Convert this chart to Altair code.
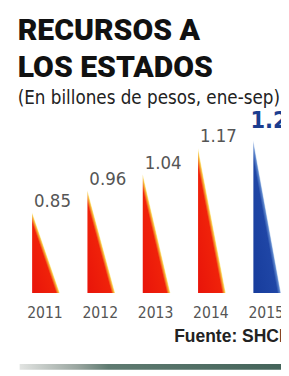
import altair as alt
import pandas as pd

# ---- data ----
years = ["2011", "2012", "2013", "2014", "2015"]
values = [0.85, 0.96, 1.04, 1.17, 1.21]
highlight = [False, False, False, False, True]

title_lines = ["RECURSOS A", "LOS ESTADOS"]
subtitle_text = "(En billones de pesos, ene-sep)"
source_text = "Fuente: SHCP"

# ---- layout / style constants ----
HEAD = "Roboto"
NARROW = "DejaVu Sans Condensed"
BAR_W = 0.5
Y_MIN, Y_MAX = 0.4476, 1.3494
X_MIN, X_MAX = -0.26, 4.50

bars = pd.DataFrame({"year": years, "value": values,
                     "idx": list(range(len(years))), "hl": highlight})
bars["label"] = bars["value"].map(lambda v: f"{v:.2f}")
bars["mid"] = bars["idx"] + BAR_W / 2

rows = []
for r in bars.itertuples():
    rows.append({"year": r.year, "x": r.idx, "y": r.value, "hl": r.hl})
    rows.append({"year": r.year, "x": r.idx + BAR_W, "y": Y_MIN, "hl": r.hl})
tri = pd.DataFrame(rows)

xs = alt.Scale(domain=[X_MIN, X_MAX], nice=False, zero=False)
ys = alt.Scale(domain=[Y_MIN, Y_MAX], nice=False, zero=False)

red_grad = alt.Gradient(
    gradient="linear",
    stops=[alt.GradientStop(color="#e8140a", offset=0),
           alt.GradientStop(color="#f0220a", offset=0.87),
           alt.GradientStop(color="#f7b83a", offset=0.96),
           alt.GradientStop(color="#fcee9a", offset=1)],
    x1=0, y1=1, x2=0.5, y2=0.5)
blue_grad = alt.Gradient(
    gradient="linear",
    stops=[alt.GradientStop(color="#173c9c", offset=0),
           alt.GradientStop(color="#1f46a6", offset=0.87),
           alt.GradientStop(color="#5d86cc", offset=0.96),
           alt.GradientStop(color="#cfe0f4", offset=1)],
    x1=0, y1=1, x2=0.5, y2=0.5)
sep_grad = alt.Gradient(
    gradient="linear",
    stops=[alt.GradientStop(color="#e2e4e2", offset=0),
           alt.GradientStop(color="#9aa6a0", offset=0.22),
           alt.GradientStop(color="#5f7b71", offset=0.34),
           alt.GradientStop(color="#44645a", offset=1)],
    x1=0, y1=0, x2=1, y2=0)

base_tri = alt.Chart(tri)
area_red = base_tri.transform_filter("!datum.hl").mark_area(color=red_grad).encode(
    x=alt.X("x:Q", scale=xs,
            axis=alt.Axis(domain=True, ticks=False, labels=False, grid=False,
                          title=None, domainColor="#a9a79f", domainWidth=1.5)),
    y=alt.Y("y:Q", scale=ys, axis=None),
    y2=alt.datum(Y_MIN),
    detail="year:N",
)
area_blue = base_tri.transform_filter("datum.hl").mark_area(color=blue_grad).encode(
    x=alt.X("x:Q", scale=xs, axis=None),
    y=alt.Y("y:Q", scale=ys, axis=None),
    y2=alt.datum(Y_MIN),
    detail="year:N",
)

base_bar = alt.Chart(bars)
labels_red = base_bar.transform_filter("!datum.hl").mark_text(
    align="left", baseline="bottom", dx=2, dy=-2,
    font=NARROW, fontSize=19, color="#555555").encode(
    x=alt.X("idx:Q", scale=xs, axis=None),
    y=alt.Y("value:Q", scale=ys, axis=None),
    text="label:N",
)
label_blue = base_bar.transform_filter("datum.hl").mark_text(
    align="left", baseline="bottom", dx=-3, dy=-8,
    font=NARROW, fontSize=24, fontWeight="bold", color="#1b3d8f").encode(
    x=alt.X("idx:Q", scale=xs, axis=None),
    y=alt.Y("value:Q", scale=ys, axis=None),
    text="label:N",
)
year_text = base_bar.mark_text(
    align="center", baseline="top", dx=-1, dy=13,
    font=NARROW, fontSize=16, color="#555555").encode(
    x=alt.X("mid:Q", scale=xs, axis=None),
    y=alt.datum(Y_MIN),
    text="year:N",
)
source = alt.Chart(pd.DataFrame({"t": [source_text]})).mark_text(
    align="left", baseline="alphabetic",
    font="Liberation Sans", fontSize=18, fontWeight="bold", color="#222222").encode(
    x=alt.value(161), y=alt.value(236), text="t:N")
separator = alt.Chart(pd.DataFrame({"a": [0]})).mark_rect(color=sep_grad).encode(
    x=alt.value(2), x2=alt.value(271), y=alt.value(259), y2=alt.value(265))

chart = alt.layer(area_red, area_blue, labels_red, label_blue, year_text,
                  source, separator).properties(
    width=271, height=186,
    padding={"left": 10, "top": 102, "right": 0, "bottom": 82},
    autosize=alt.AutoSizeParams(type="none"),
    title=alt.TitleParams(
        text=title_lines, subtitle=subtitle_text, anchor="start",
        font=HEAD, fontSize=31, fontWeight=900, lineHeight=38,
        color="#111111",
        subtitleFont=NARROW, subtitleFontSize=19.2, subtitleColor="#222222",
        subtitlePadding=6, offset=0),
).configure(background="white").configure_view(strokeWidth=0, strokeOpacity=0)

chart.save("out.html", embed_options={"renderer": "svg", "actions": False})
